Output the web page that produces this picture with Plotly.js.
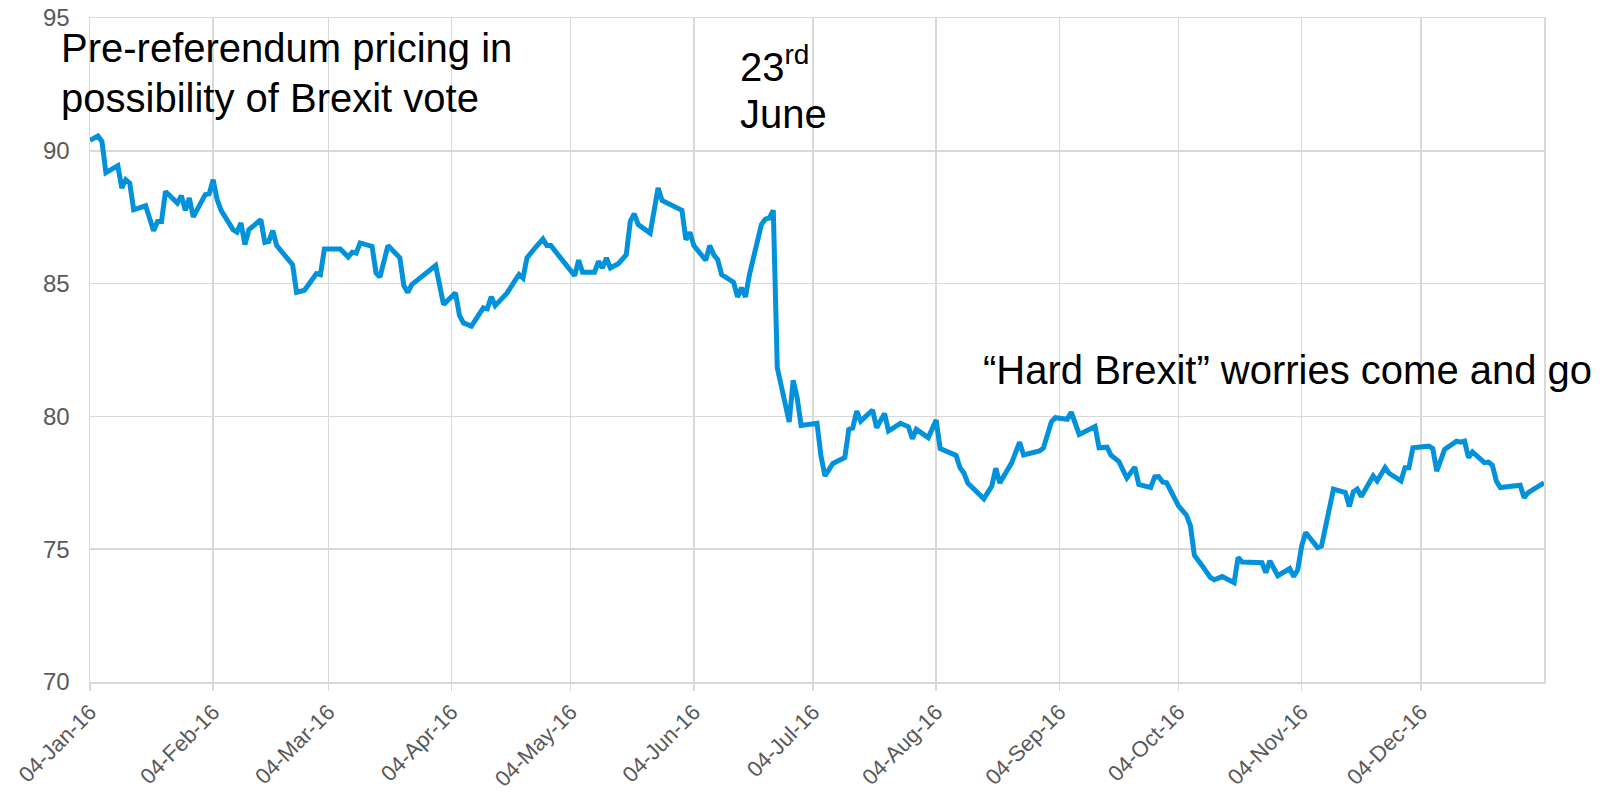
<!DOCTYPE html>
<html>
<head>
<meta charset="utf-8">
<script src="https://cdn.plot.ly/plotly-3.0.1.min.js"></script>
<style>
  html, body { margin: 0; padding: 0; background: #ffffff; }
  #chart { width: 1610px; height: 793px; }
</style>
</head>
<body>
<div id="chart"></div>
<script>
// ---- data ----
const dates = [
  '2016-01-04','2016-01-06','2016-01-07','2016-01-08','2016-01-11','2016-01-12','2016-01-13','2016-01-14','2016-01-15','2016-01-18',
  '2016-01-20','2016-01-21','2016-01-22','2016-01-23','2016-01-26','2016-01-27','2016-01-28','2016-01-29','2016-01-30','2016-02-02',
  '2016-02-03','2016-02-04','2016-02-05','2016-02-06','2016-02-09','2016-02-10','2016-02-11','2016-02-12','2016-02-13','2016-02-16',
  '2016-02-17','2016-02-18','2016-02-19','2016-02-20','2016-02-24','2016-02-25','2016-02-27','2016-03-01','2016-03-02','2016-03-03',
  '2016-03-07','2016-03-09','2016-03-10','2016-03-11','2016-03-12','2016-03-15','2016-03-16','2016-03-17','2016-03-19','2016-03-22',
  '2016-03-23','2016-03-24','2016-03-25','2016-03-31','2016-04-02','2016-04-05','2016-04-06','2016-04-07','2016-04-09','2016-04-12',
  '2016-04-13','2016-04-14','2016-04-15','2016-04-18','2016-04-20','2016-04-21','2016-04-22','2016-04-23','2016-04-25','2016-04-27',
  '2016-04-28','2016-04-29','2016-05-05','2016-05-06','2016-05-07','2016-05-10','2016-05-11','2016-05-12','2016-05-13','2016-05-14',
  '2016-05-16','2016-05-18','2016-05-19','2016-05-20','2016-05-21','2016-05-24','2016-05-26','2016-05-27','2016-06-01','2016-06-02',
  '2016-06-03','2016-06-04','2016-06-07','2016-06-08','2016-06-09','2016-06-10','2016-06-11','2016-06-14','2016-06-15','2016-06-16',
  '2016-06-17','2016-06-18','2016-06-21','2016-06-22','2016-06-23','2016-06-24','2016-06-25','2016-06-28','2016-06-29','2016-06-30',
  '2016-07-01','2016-07-05','2016-07-06','2016-07-07','2016-07-09','2016-07-12','2016-07-13','2016-07-14','2016-07-15','2016-07-16',
  '2016-07-19','2016-07-20','2016-07-22','2016-07-23','2016-07-26','2016-07-28','2016-07-29','2016-07-30','2016-08-02','2016-08-04',
  '2016-08-05','2016-08-09','2016-08-10','2016-08-11','2016-08-12','2016-08-16','2016-08-18','2016-08-19','2016-08-20','2016-08-23',
  '2016-08-25','2016-08-26','2016-08-30','2016-08-31','2016-09-02','2016-09-03','2016-09-06','2016-09-07','2016-09-09','2016-09-13',
  '2016-09-14','2016-09-16','2016-09-17','2016-09-19','2016-09-21','2016-09-23','2016-09-24','2016-09-27','2016-09-28','2016-09-29',
  '2016-09-30','2016-10-01','2016-10-04','2016-10-06','2016-10-07','2016-10-08','2016-10-10','2016-10-12','2016-10-13','2016-10-15',
  '2016-10-18','2016-10-19','2016-10-20','2016-10-25','2016-10-26','2016-10-27','2016-10-29','2016-11-01','2016-11-02','2016-11-03',
  '2016-11-04','2016-11-05','2016-11-08','2016-11-09','2016-11-12','2016-11-15','2016-11-16','2016-11-17','2016-11-18','2016-11-19',
  '2016-11-22','2016-11-23','2016-11-25','2016-11-26','2016-11-29','2016-11-30','2016-12-01','2016-12-02','2016-12-06','2016-12-07',
  '2016-12-08','2016-12-10','2016-12-13','2016-12-14','2016-12-15','2016-12-16','2016-12-17','2016-12-20','2016-12-21','2016-12-22',
  '2016-12-23','2016-12-24','2016-12-29','2016-12-30','2016-12-31','2017-01-04'
];
const values = [
  90.39,90.56,90.35,89.18,89.44,88.60,88.91,88.78,87.78,87.93,
  86.99,87.34,87.34,88.47,88.03,88.31,87.76,88.22,87.51,88.35,
  88.38,88.91,88.16,87.76,87.03,86.94,87.28,86.47,87.03,87.41,
  86.55,86.59,86.99,86.43,85.71,84.67,84.75,85.38,85.34,86.30,
  86.30,86.00,86.18,86.15,86.53,86.40,85.40,85.25,86.43,85.97,
  84.92,84.67,84.96,85.68,84.21,84.65,83.80,83.52,83.40,84.09,
  84.05,84.50,84.17,84.65,85.12,85.34,85.21,85.97,86.34,86.68,
  86.43,86.43,85.30,85.88,85.43,85.43,85.84,85.59,85.97,85.59,
  85.75,86.09,87.34,87.63,87.22,86.90,88.60,88.13,87.76,86.65,
  86.93,86.43,85.88,86.43,86.09,85.90,85.34,85.05,84.50,84.84,
  84.50,85.34,87.22,87.43,87.47,87.76,81.83,79.79,81.36,80.70,
  79.66,79.74,78.51,77.76,78.23,78.45,79.51,79.57,80.20,79.82,
  80.24,79.57,80.11,79.45,79.74,79.61,79.16,79.51,79.20,79.86,
  78.79,78.53,78.07,77.86,77.48,76.90,77.38,78.05,77.49,78.25,
  79.03,78.55,78.70,78.81,79.80,79.95,79.89,80.16,79.32,79.62,
  78.82,78.84,78.54,78.30,77.68,78.09,77.44,77.32,77.72,77.73,
  77.53,77.50,76.63,76.28,75.88,74.77,74.37,73.94,73.85,73.97,
  73.74,74.69,74.52,74.49,74.12,74.56,74.00,74.27,73.97,74.22,
  75.12,75.63,75.06,75.12,77.26,77.13,76.61,77.16,77.26,76.98,
  77.76,77.57,78.07,77.86,77.57,78.07,78.07,78.82,78.88,78.79,
  77.94,78.76,79.07,79.03,79.07,78.45,78.66,78.26,78.28,78.16,
  77.57,77.32,77.41,76.94,77.13,77.50
];
const xTickVals = ['2016-01-04','2016-02-04','2016-03-04','2016-04-04','2016-05-04','2016-06-04',
                   '2016-07-04','2016-08-04','2016-09-04','2016-10-04','2016-11-04','2016-12-04'];
const xTickText = ['04-Jan-16','04-Feb-16','04-Mar-16','04-Apr-16','04-May-16','04-Jun-16',
                   '04-Jul-16','04-Aug-16','04-Sep-16','04-Oct-16','04-Nov-16','04-Dec-16'];
const yTickVals = [70, 75, 80, 85, 90, 95];

const FONT = '"Liberation Sans", Arial, Helvetica, sans-serif';
const GRID = '#d9d9d9';
const TICKCOL = '#595959';

const trace = {
  type: 'scatter',
  mode: 'lines',
  x: dates,
  y: values,
  line: { color: '#0291db', width: 5 },
  hoverinfo: 'x+y'
};

const annFont = { family: FONT, size: 40, color: '#000000' };
const layout = {
  width: 1610,
  height: 793,
  margin: { l: 90, r: 66, t: 18, b: 111, pad: 0 },
  paper_bgcolor: '#ffffff',
  plot_bgcolor: '#ffffff',
  showlegend: false,
  font: { family: FONT, color: TICKCOL },
  xaxis: {
    type: 'date',
    range: ['2016-01-04', '2017-01-04'],
    tickmode: 'array',
    tickvals: xTickVals,
    ticktext: xTickText,
    tickangle: -45,
    tickfont: { family: FONT, size: 22, color: TICKCOL },
    showgrid: true,
    gridcolor: GRID,
    gridwidth: 1.5,
    showline: true,
    mirror: true,
    linecolor: GRID,
    linewidth: 1.5,
    ticks: 'outside',
    ticklen: 7,
    tickwidth: 1.5,
    tickcolor: GRID,
    zeroline: false,
    fixedrange: true
  },
  yaxis: {
    range: [70, 95],
    tickmode: 'array',
    tickvals: yTickVals,
    tickfont: { family: FONT, size: 24, color: TICKCOL },
    showgrid: true,
    gridcolor: GRID,
    gridwidth: 1.5,
    showline: true,
    mirror: true,
    linecolor: GRID,
    linewidth: 1.5,
    ticks: '',
    ticklabelstandoff: 14,
    zeroline: false,
    fixedrange: true
  },
  annotations: [
    { xref: 'paper', yref: 'paper', x: -0.0212, y: 0.9190, xanchor: 'left', yanchor: 'bottom',
      text: 'Pre-referendum pricing in', showarrow: false, font: annFont, align: 'left' },
    { xref: 'paper', yref: 'paper', x: -0.0212, y: 0.8440, xanchor: 'left', yanchor: 'bottom',
      text: 'possibility of Brexit vote', showarrow: false, font: annFont, align: 'left' },
    { xref: 'paper', yref: 'paper', x: 0.4455, y: 0.8900, xanchor: 'left', yanchor: 'bottom',
      text: '23<sup>rd</sup>', showarrow: false, font: annFont, align: 'left' },
    { xref: 'paper', yref: 'paper', x: 0.4455, y: 0.8190, xanchor: 'left', yanchor: 'bottom',
      text: 'June', showarrow: false, font: annFont, align: 'left' },
    { xref: 'paper', yref: 'paper', x: 0.6128, y: 0.4330, xanchor: 'left', yanchor: 'bottom',
      text: '\u201CHard Brexit\u201D worries come and go', showarrow: false, font: annFont, align: 'left' }
  ]
};

Plotly.newPlot('chart', [trace], layout, { displayModeBar: false, staticPlot: true });
</script>
</body>
</html>
